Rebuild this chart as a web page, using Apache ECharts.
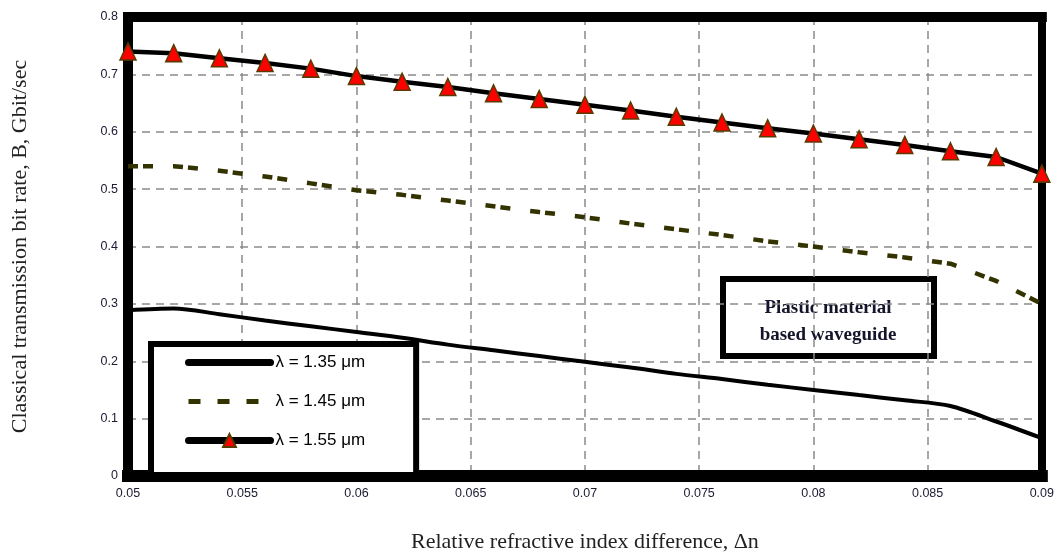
<!DOCTYPE html>
<html>
<head>
<meta charset="utf-8">
<script src="https://cdn.jsdelivr.net/npm/echarts@6/dist/echarts.min.js"></script>
<style>
html,body{margin:0;padding:0;background:#fff;}
#chart{width:1057px;height:559px;}
</style>
</head>
<body>
<div id="chart"></div>
<script>
// ---- data ----
const deltaN = [0.05,0.052,0.054,0.056,0.058,0.06,0.062,0.064,0.066,0.068,0.07,0.072,0.074,0.076,0.078,0.08,0.082,0.084,0.086,0.088,0.09];
const b135 = [0.289,0.292,0.282,0.271,0.261,0.251,0.241,0.229,0.219,0.209,0.199,0.189,0.178,0.169,0.159,0.150,0.141,0.132,0.122,0.095,0.066];
const b145 = [0.540,0.540,0.532,0.522,0.510,0.498,0.490,0.480,0.470,0.460,0.451,0.440,0.430,0.420,0.409,0.400,0.390,0.381,0.370,0.340,0.300];
const b155 = [0.740,0.737,0.728,0.720,0.710,0.697,0.687,0.678,0.667,0.657,0.647,0.637,0.626,0.616,0.606,0.597,0.587,0.577,0.566,0.556,0.527];
const seriesNames = ['λ = 1.35 μm','λ = 1.45 μm','λ = 1.55 μm'];
const xTicks = [0.05,0.055,0.06,0.065,0.07,0.075,0.08,0.085,0.09];
const yTicks = [0,0.1,0.2,0.3,0.4,0.5,0.6,0.7,0.8];
const xTitle = 'Relative refractive index difference, Δn';
const yTitle = 'Classical transmission bit rate, B, Gbit/sec';
const noteLines = ['Plastic material','based waveguide'];

const pairs = arr => deltaN.map((x,i)=>[x,arr[i]]);
const fmt = v => String(parseFloat(v.toFixed(3)));

const chart = echarts.init(document.getElementById('chart'), null, {renderer:'canvas'});
const tickFont = {fontFamily:'Liberation Sans, Arial, sans-serif', fontSize:12.5, color:'#1a1a30'};
const xMin = xTicks[0], xMax = xTicks[xTicks.length-1];
const yMin = yTicks[0], yMax = yTicks[yTicks.length-1];
const grid = {left:128, right:15, top:17, bottom:83};
const splitStyle = {show:true, lineStyle:{color:'#8a8a8a', width:1.5, type:[8,6]}};
const serifName = {fontFamily:'Liberation Serif, Times New Roman, serif', fontSize:22, color:'#222'};

chart.setOption({
  animation:false,
  backgroundColor:'#fff',
  grid:grid,
  xAxis:[{
    type:'value', min:xMin, max:xMax, interval:0.005, position:'bottom',
    axisLine:{show:true, onZero:false, lineStyle:{color:'#000', width:12, cap:'square'}},
    axisTick:{show:false},
    axisLabel:Object.assign({margin:11, formatter:fmt, showMaxLabel:true, showMinLabel:true}, tickFont),
    splitLine:splitStyle,
    name:xTitle, nameLocation:'middle', nameGap:55, nameTextStyle:serifName
  },{
    type:'value', min:xMin, max:xMax, interval:0.005, position:'top',
    axisLine:{show:true, onZero:false, lineStyle:{color:'#000', width:10, cap:'square'}},
    axisTick:{show:false}, axisLabel:{show:false}, splitLine:{show:false}
  }],
  yAxis:[{
    type:'value', min:yMin, max:yMax, interval:0.1, position:'left',
    axisLine:{show:true, onZero:false, lineStyle:{color:'#000', width:10, cap:'square'}},
    axisTick:{show:false},
    axisLabel:Object.assign({margin:10, formatter:fmt}, tickFont),
    splitLine:splitStyle,
    name:yTitle, nameLocation:'middle', nameGap:97, nameTextStyle:serifName
  },{
    type:'value', min:yMin, max:yMax, interval:0.1, position:'right',
    axisLine:{show:true, onZero:false, lineStyle:{color:'#000', width:8, cap:'square'}},
    axisTick:{show:false}, axisLabel:{show:false}, splitLine:{show:false}
  }],
  legend:{
    orient:'vertical', left:151, top:344, z:10,
    backgroundColor:'#fff', borderColor:'#000', borderWidth:6,
    padding:[10,51,26,34],
    itemWidth:82, itemHeight:16, itemGap:22,
    textStyle:{fontFamily:'Liberation Sans, Arial, sans-serif', fontSize:17, color:'#000'},
    data:[
      {name:seriesNames[0], lineStyle:{width:7, cap:'round'}, itemStyle:{opacity:0}},
      {name:seriesNames[1], lineStyle:{width:5, type:[12,17]}, itemStyle:{opacity:0}},
      {name:seriesNames[2], lineStyle:{width:7, cap:'round'}}
    ]
  },
  series:[
    {name:seriesNames[0], type:'line', data:pairs(b135), smooth:0.3, symbol:'none', showSymbol:false,
     lineStyle:{color:'#000', width:4}, itemStyle:{color:'#000'}, z:3},
    {name:seriesNames[1], type:'line', data:pairs(b145), symbol:'none', showSymbol:false,
     lineStyle:{color:'#333300', width:4.5, type:[10,5,10,20]}, itemStyle:{color:'#333300'}, z:3},
    {name:seriesNames[2], type:'line', data:pairs(b155), symbol:'triangle', symbolSize:[16,17],
     lineStyle:{color:'#000', width:4.5}, itemStyle:{color:'#ff0000', borderColor:'#5a3a00', borderWidth:1.5}, z:4}
  ],
  graphic:[{
    type:'group', left:720, top:276, z:100,
    children:[
      {type:'rect', shape:{x:3, y:3, width:211, height:77}, style:{fill:'#fff', stroke:'#000', lineWidth:6}},
      {type:'text', x:108, y:32, style:{text:noteLines[0], fill:'#14142a', font:'bold 19px "Liberation Serif", "Times New Roman", serif', textAlign:'center', textVerticalAlign:'middle'}},
      {type:'text', x:108, y:59, style:{text:noteLines[1], fill:'#14142a', font:'bold 19px "Liberation Serif", "Times New Roman", serif', textAlign:'center', textVerticalAlign:'middle'}}
    ]
  }]
});
</script>
</body>
</html>
